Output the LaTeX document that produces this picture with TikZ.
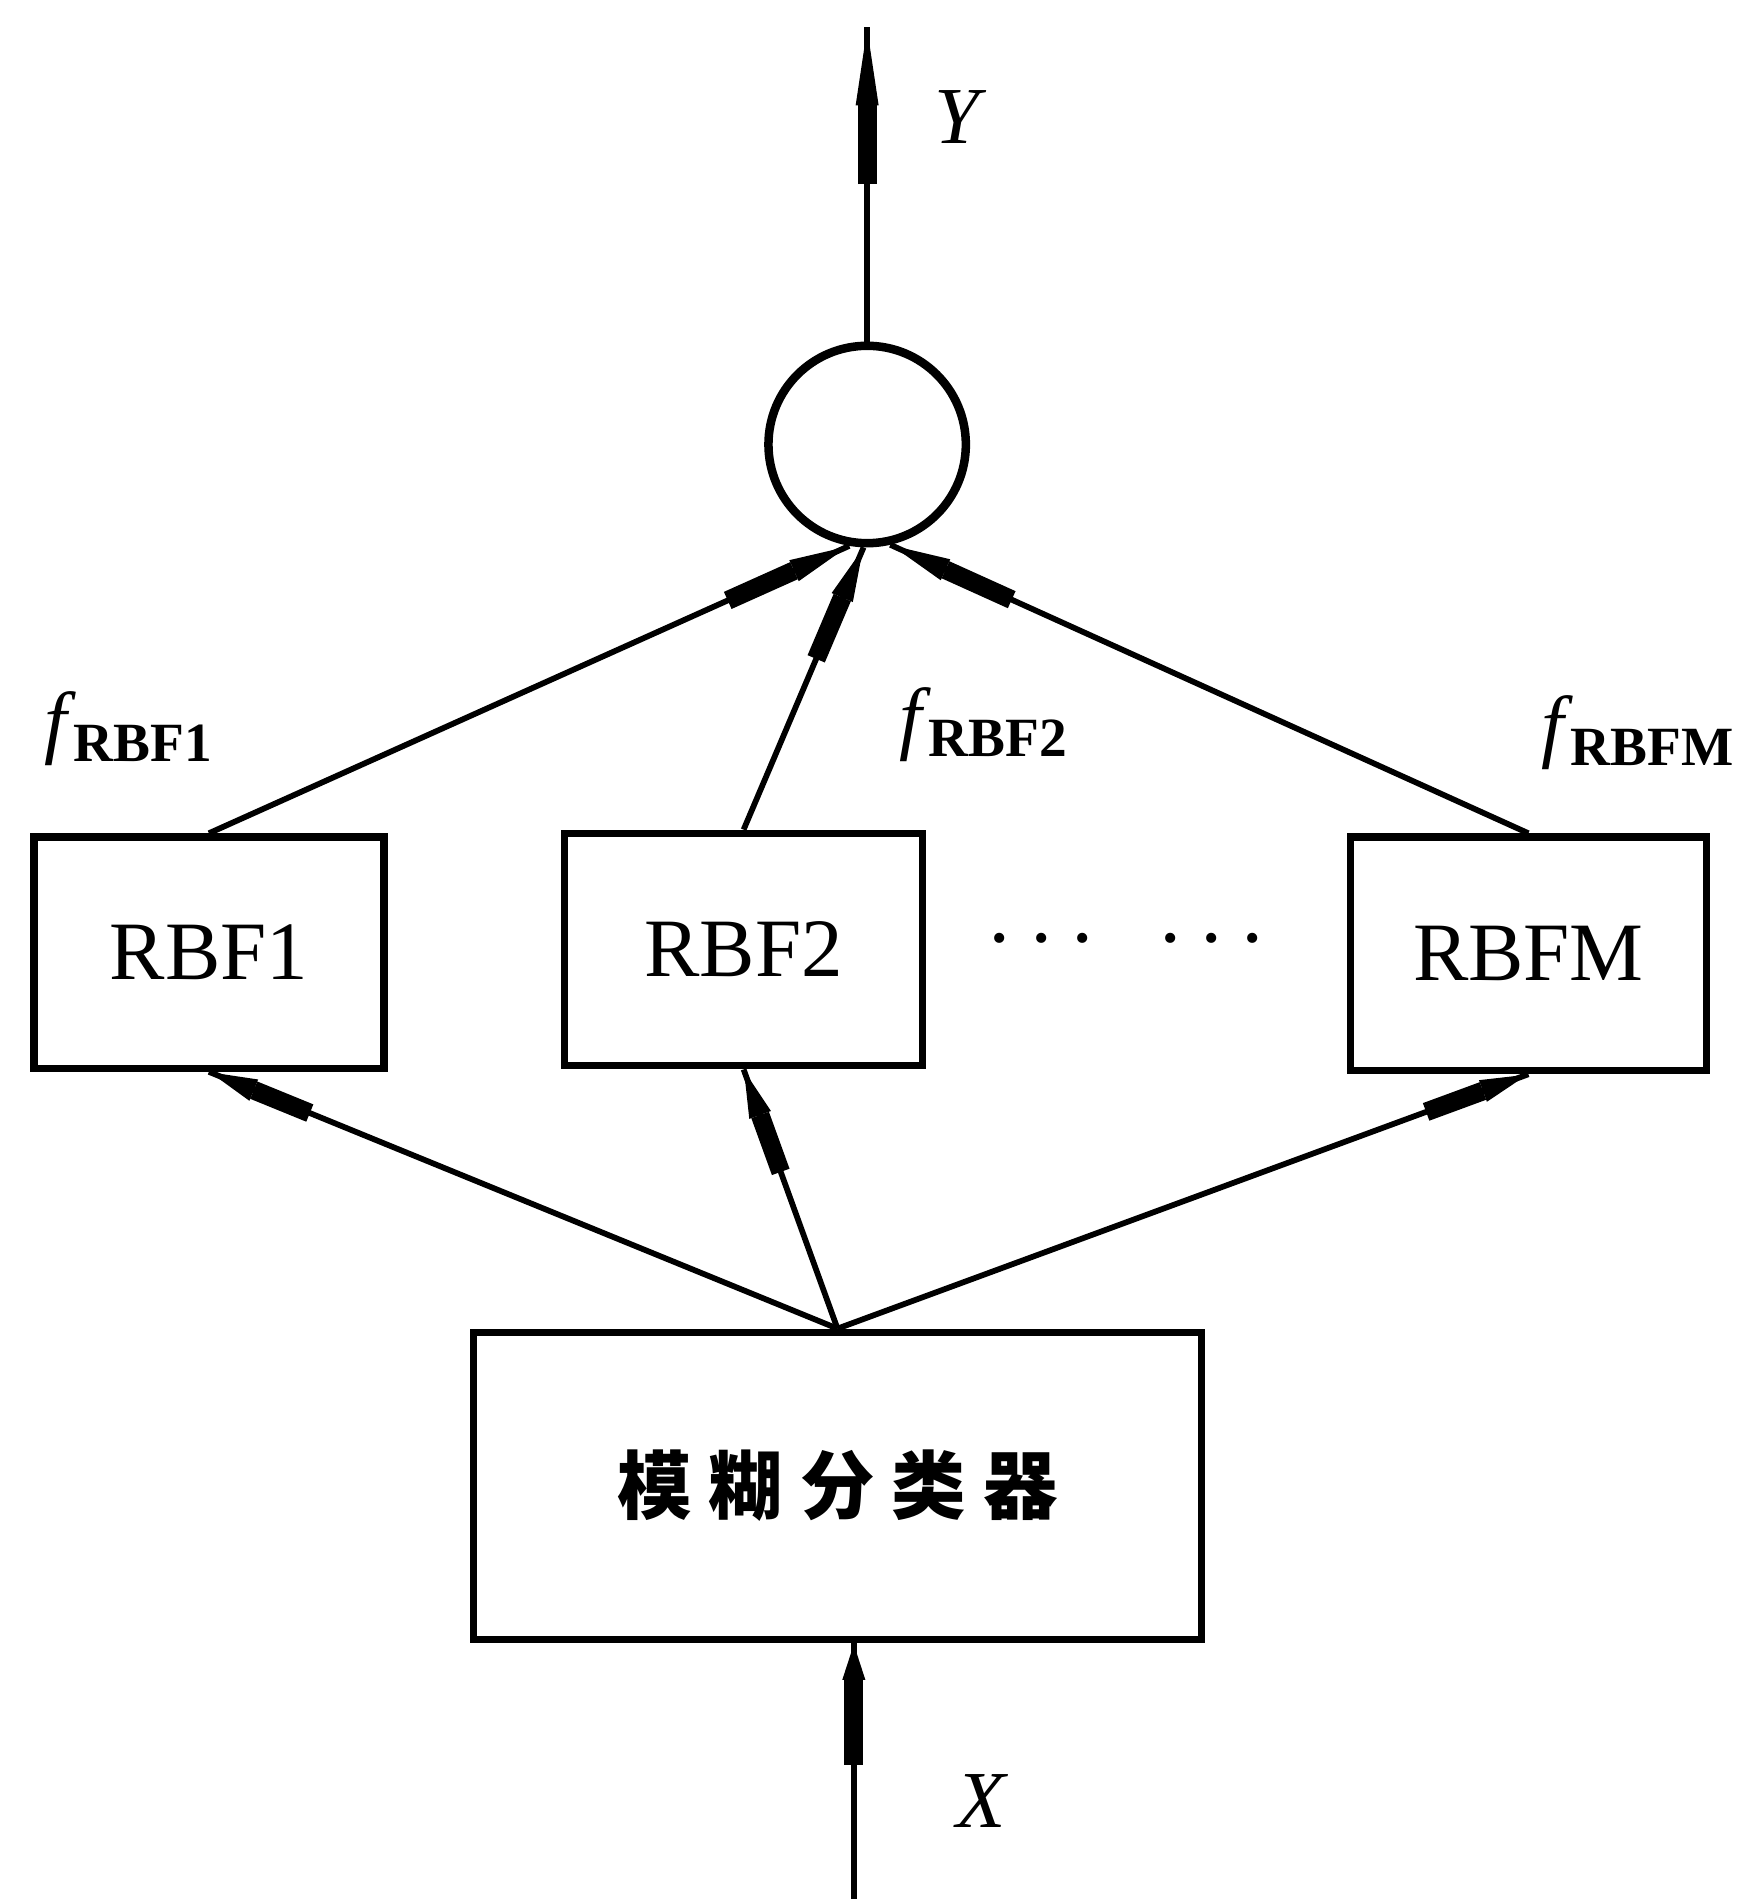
\documentclass[tikz,border=0pt]{standalone}
\usepackage{fontspec}
\setmainfont{Liberation Serif}
\newfontfamily\cjk{Noto Sans CJK SC}
\usetikzlibrary{arrows.meta,calc}
% fat arrow: from #1 toward tip #2, total length #3, tip length #4
\newcommand{\fatarr}[4]{%
  \draw[fat] ($(#2)!#3!(#1)$) -- ($(#2)!#4!(#1)$);
  \draw[conn,-{Triangle[length=#4,width=5pt]}] ($(#2)!#4!(#1)$) -- (#2);}
\begin{document}
\begin{tikzpicture}[x=0.1mm,y=-0.1mm,
  box/.style={draw,line width=1.7pt,inner sep=0pt,font=\fontsize{19.5}{20}\selectfont},
  conn/.style={line width=1.35pt},
  fat/.style={line width=4.4pt},
  lbl/.style={inner sep=0pt}]
\useasboundingbox (0,0) rectangle (1437,1568);

% nodes
\node[box,minimum width=28.9mm,minimum height=19.1mm] (rbf1) at (172.5,786.5) {RBF1};
\node[box,minimum width=29.6mm,minimum height=19.2mm] (rbf2) at (614,784) {RBF2};
\node[box,minimum width=29.4mm,minimum height=19.3mm] (rbfm) at (1262,787.5) {RBFM};
\node[box,minimum width=60.1mm,minimum height=25.4mm,
      font=\cjk\bfseries\fontsize{17.5}{18}\selectfont] (cls) at (691.5,1227)
      {模\hspace{4pt}糊\hspace{4pt}分\hspace{4pt}类\hspace{4pt}器};
\node[draw,circle,line width=2pt,minimum size=16.3mm,inner sep=0pt] (sum) at (716,367) {};

\coordinate (yout) at (716,22);
\coordinate (xin) at (705,1568);
\coordinate (xtop) at (cls.south -| xin);

% output
\draw[conn] (sum.north) -- (yout);
\fatarr{sum.north}{yout}{13mm}{6.5mm}

% RBF -> sum
\draw[conn] (rbf1.north) -- (sum.260);
\fatarr{rbf1.north}{sum.260}{11mm}{5mm}
\draw[conn] (rbf2.north) -- (sum.268);
\fatarr{rbf2.north}{sum.268}{10mm}{4.5mm}
\draw[conn] (rbfm.north) -- (sum.283);
\fatarr{rbfm.north}{sum.283}{11mm}{5mm}

% classifier -> RBF
\draw[conn] (cls.north) -- (rbf1.south);
\fatarr{cls.north}{rbf1.south}{9mm}{4mm}
\draw[conn] (cls.north) -- (rbf2.south);
\fatarr{cls.north}{rbf2.south}{9mm}{4mm}
\draw[conn] (cls.north) -- (rbfm.south);
\fatarr{cls.north}{rbfm.south}{9mm}{4mm}

% input
\draw[conn] (xin) -- (xtop);
\fatarr{xin}{xtop}{10mm}{3mm}

% labels
\node[lbl,font=\fontsize{19}{20}\selectfont\itshape] (ylab) at (790,97) {Y};
\node[lbl,font=\fontsize{19}{20}\selectfont\itshape] (xlab) at (810,1487) {X};
\node[lbl] (f1) at (106,602) {\fontsize{19}{19}\selectfont\itshape f\upshape\hspace{1.5pt}\raisebox{-3pt}{\fontsize{13}{13}\selectfont\bfseries RBF1}};
\node[lbl] (f2) at (812,598) {\fontsize{19}{19}\selectfont\itshape f\upshape\hspace{1.5pt}\raisebox{-3pt}{\fontsize{13}{13}\selectfont\bfseries RBF2}};
\node[lbl] (fm) at (1352,605) {\fontsize{19}{19}\selectfont\itshape f\upshape\hspace{1.5pt}\raisebox{-3pt}{\fontsize{13}{13}\selectfont\bfseries RBFM}};
\node[lbl,font=\fontsize{20}{20}\selectfont] (dots) at (930,784)
  {·\hspace{3pt}·\hspace{3pt}·\hspace{14pt}·\hspace{3pt}·\hspace{3pt}·};
\end{tikzpicture}
\end{document}
